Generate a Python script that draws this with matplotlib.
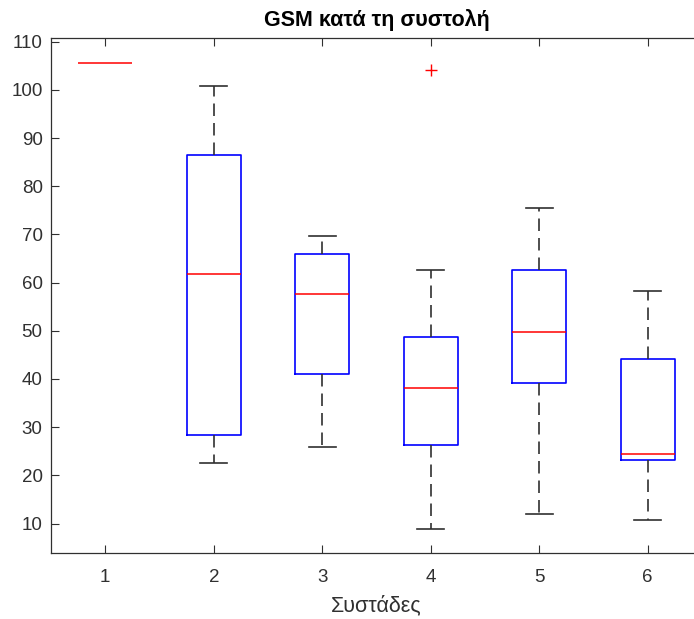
import numpy as np
import matplotlib
matplotlib.use('Agg')
import matplotlib.pyplot as plt

plt.rcParams['font.family'] = ['Liberation Sans', 'DejaVu Sans']

# box statistics
groups = [1, 2, 3, 4, 5, 6]
whislo = [105.6, 22.5, 25.8, 8.8, 12.0, 10.7]
q1 = [105.6, 28.3, 41.1, 26.3, 39.1, 23.1]
med = [105.6, 61.8, 57.6, 38.2, 49.7, 24.5]
q3 = [105.6, 86.5, 65.9, 48.8, 62.7, 44.1]
whishi = [105.6, 100.9, 69.7, 62.6, 75.4, 58.2]
fliers = [[], [], [], [104.1], [], []]

title = 'GSM κατά τη συστολή'
xlabel = 'Συστάδες'

gray = '#303030'

stats = []
for i in range(len(groups)):
    stats.append(dict(whislo=whislo[i], q1=q1[i], med=med[i], q3=q3[i],
                      whishi=whishi[i], fliers=fliers[i], label=str(groups[i])))

fig = plt.figure(figsize=(6.94, 6.19), dpi=100)
ax = fig.add_axes([0.0735, 0.106, 0.938, 0.832])

res = ax.bxp(stats, positions=groups, widths=0.5, capwidths=0.25,
             boxprops=dict(color='blue', linewidth=1.2),
             medianprops=dict(color='red', linewidth=1.1, zorder=4),
             whiskerprops=dict(color=gray, linewidth=1.2, linestyle=(0, (7.5, 4.2))),
             capprops=dict(color=gray, linewidth=1.2),
             flierprops=dict(marker='+', markeredgecolor='red', markersize=9, markeredgewidth=1.0))

# flat boxes (single value): only the median shows
for i, b in enumerate(res['boxes']):
    if q1[i] == q3[i]:
        b.set_visible(False)
        res['caps'][2 * i].set_visible(False)
        res['caps'][2 * i + 1].set_visible(False)

ax.set_xlim(0.5, 6.5)
ax.set_ylim(3.8, 110.7)
ax.set_yticks(np.arange(10, 111, 10))
ax.set_xticks(groups)
ax.set_xticklabels([str(g) for g in groups])

ax.tick_params(direction='in', length=5.5, width=0.8, colors=gray, labelsize=13.5,
               top=True, right=True)
ax.tick_params(axis='x', pad=11)
ax.tick_params(axis='y', pad=6)
for s in ax.spines.values():
    s.set_color(gray)
    s.set_linewidth(0.9)

ax.set_title(title, fontsize=15.5, fontweight='bold', color='black', pad=9)
ax.set_xlabel(xlabel, fontsize=15.5, color=gray, labelpad=7)

fig.savefig('out.png', dpi=100)
